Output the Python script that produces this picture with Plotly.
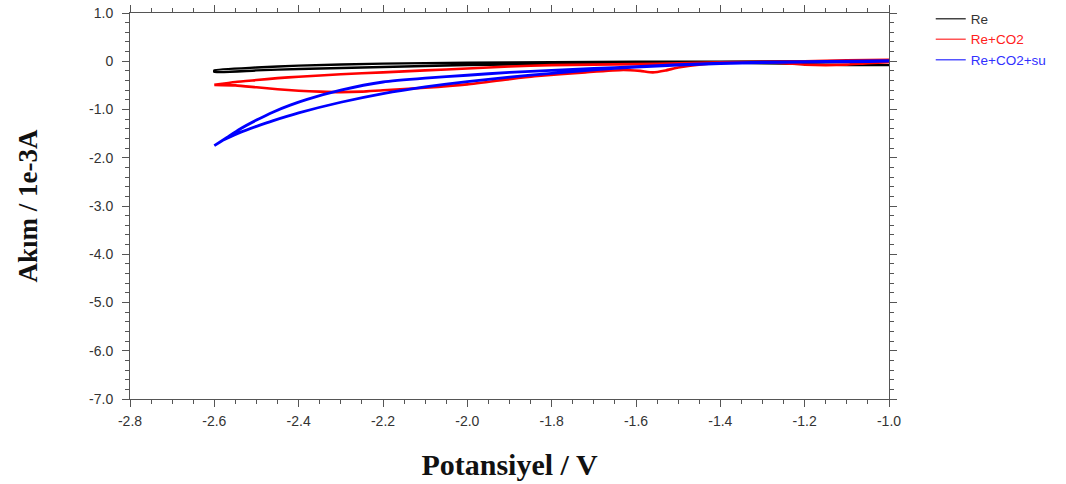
import plotly.graph_objects as go

# ---- data (potential in V, current in 1e-3 A) ----
re_fwd_v = [-1.0, -1.1, -1.2, -1.3, -1.4, -1.5, -1.6, -1.8, -2.0, -2.2, -2.4, -2.5, -2.6]
re_fwd_i = [-0.08, -0.08, -0.06, -0.04, -0.03, -0.03, -0.04, -0.06, -0.08, -0.12, -0.16, -0.19, -0.22]
re_rev_v = [-2.6, -2.5, -2.4, -2.2, -2.0, -1.8, -1.6, -1.4, -1.2, -1.1, -1.0]
re_rev_i = [-0.19, -0.13, -0.09, -0.05, -0.03, -0.02, -0.01, -0.01, 0.0, 0.0, -0.01]

co2_fwd_v = [-1.0, -1.05, -1.1, -1.15, -1.2, -1.25, -1.3, -1.38, -1.44, -1.5, -1.53, -1.56, -1.59,
             -1.63, -1.72, -1.84, -1.9, -2.0, -2.1, -2.2, -2.25, -2.3, -2.35, -2.4, -2.45, -2.5,
             -2.55, -2.6]
co2_fwd_i = [-0.02, -0.04, -0.07, -0.08, -0.07, -0.04, -0.02, -0.03, -0.06, -0.13, -0.19, -0.23,
             -0.20, -0.18, -0.23, -0.31, -0.37, -0.48, -0.55, -0.60, -0.63, -0.64, -0.63, -0.61,
             -0.58, -0.54, -0.50, -0.49]
co2_rev_v = [-2.6, -2.55, -2.5, -2.45, -2.4, -2.3, -2.2, -2.1, -2.0, -1.9, -1.8, -1.7, -1.6,
             -1.5, -1.4, -1.3, -1.2, -1.1, -1.0]
co2_rev_i = [-0.49, -0.43, -0.39, -0.35, -0.32, -0.27, -0.23, -0.19, -0.15, -0.11, -0.08, -0.07,
             -0.06, -0.04, -0.02, -0.01, 0.0, 0.02, 0.03]

su_fwd_v = [-1.0, -1.1, -1.2, -1.3, -1.4, -1.5, -1.6, -1.7, -1.8, -1.9, -2.0, -2.1, -2.2, -2.3,
            -2.4, -2.46, -2.5, -2.54, -2.58, -2.6]
su_fwd_i = [0.0, -0.01, -0.02, -0.03, -0.05, -0.08, -0.12, -0.18, -0.25, -0.33, -0.42, -0.53,
            -0.67, -0.85, -1.07, -1.23, -1.35, -1.48, -1.64, -1.75]
su_rev_v = [-2.6, -2.57, -2.54, -2.5, -2.46, -2.42, -2.38, -2.3, -2.2, -2.1, -2.0, -1.9, -1.8,
            -1.7, -1.6, -1.5, -1.4, -1.3, -1.2, -1.1, -1.0]
su_rev_i = [-1.75, -1.58, -1.41, -1.22, -1.05, -0.91, -0.79, -0.60, -0.43, -0.35, -0.29, -0.23,
            -0.19, -0.15, -0.11, -0.07, -0.04, -0.02, -0.01, 0.0, 0.01]

series_names = ["Re", "Re+CO2", "Re+CO2+su"]
line_colors = ["#000000", "#ff0000", "#0000ff"]
legend_line_colors = ["#444444", "#ff5555", "#5555ff"]
legend_text_colors = ["#333333", "#ff2020", "#3030ff"]

x_tick_vals = [-2.8, -2.6, -2.4, -2.2, -2.0, -1.8, -1.6, -1.4, -1.2, -1.0]
x_tick_text = ["-2.8", "-2.6", "-2.4", "-2.2", "-2.0", "-1.8", "-1.6", "-1.4", "-1.2", "-1.0"]
y_tick_vals = [1.0, 0.0, -1.0, -2.0, -3.0, -4.0, -5.0, -6.0, -7.0]
y_tick_text = ["1.0", "0", "-1.0", "-2.0", "-3.0", "-4.0", "-5.0", "-6.0", "-7.0"]

curves = [
    (re_fwd_v + re_rev_v, re_fwd_i + re_rev_i),
    (co2_fwd_v + co2_rev_v, co2_fwd_i + co2_rev_i),
    (su_fwd_v + su_rev_v, su_fwd_i + su_rev_i),
]
widths = [2.4, 2.6, 2.8]

fig = go.Figure()
for (xv, yv), col, w in zip(curves, line_colors, widths):
    fig.add_trace(go.Scatter(x=xv, y=yv, mode="lines", showlegend=False,
                             line=dict(color=col, width=w, shape="spline", smoothing=0.5),
                             hoverinfo="skip"))

for name, lc, tc in zip(series_names, legend_line_colors, legend_text_colors):
    fig.add_trace(go.Scatter(x=[None], y=[None], mode="lines",
                             name=f'<span style="color:{tc}">{name}</span>',
                             line=dict(color=lc, width=1.5)))

axis_common = dict(showgrid=False, zeroline=False, showline=True, linecolor="#555555",
                   linewidth=1, mirror="allticks", ticks="outside", ticklen=7,
                   tickcolor="#555555", automargin=False,
                   tickfont=dict(family="Liberation Sans, Arial", size=14, color="#333333"))

fig.update_xaxes(range=[-2.8, -1.0], tickvals=x_tick_vals, ticktext=x_tick_text,
                 ticklabelstandoff=2,
                 minor=dict(dtick=0.05, ticks="outside", ticklen=4, tickcolor="#555555"),
                 title=dict(text="Potansiyel / V", standoff=26,
                            font=dict(family="Liberation Serif, Times New Roman", size=30,
                                      color="#111111", weight="bold")),
                 **axis_common)
fig.update_yaxes(range=[-7.0, 1.0], tickvals=y_tick_vals, ticktext=y_tick_text,
                 ticklabelstandoff=6,
                 minor=dict(dtick=0.2, ticks="outside", ticklen=4, tickcolor="#555555"),
                 title=dict(text="Akım / 1e-3A", standoff=43,
                            font=dict(family="Liberation Serif, Times New Roman", size=27,
                                      color="#111111", weight="bold")),
                 **axis_common)

fig.update_layout(
    width=1066, height=484,
    margin=dict(l=130, r=177, t=13, b=85, autoexpand=False),
    paper_bgcolor="white", plot_bgcolor="white",
    legend=dict(x=1.055, y=1.025, xanchor="left", yanchor="top", itemwidth=30,
                font=dict(family="Liberation Sans, Arial", size=13.5), tracegroupgap=0,
                bgcolor="rgba(0,0,0,0)"),
)

fig.write_html("out.html", config={"displayModeBar": False},
               post_script="document.body.style.margin='0';")
